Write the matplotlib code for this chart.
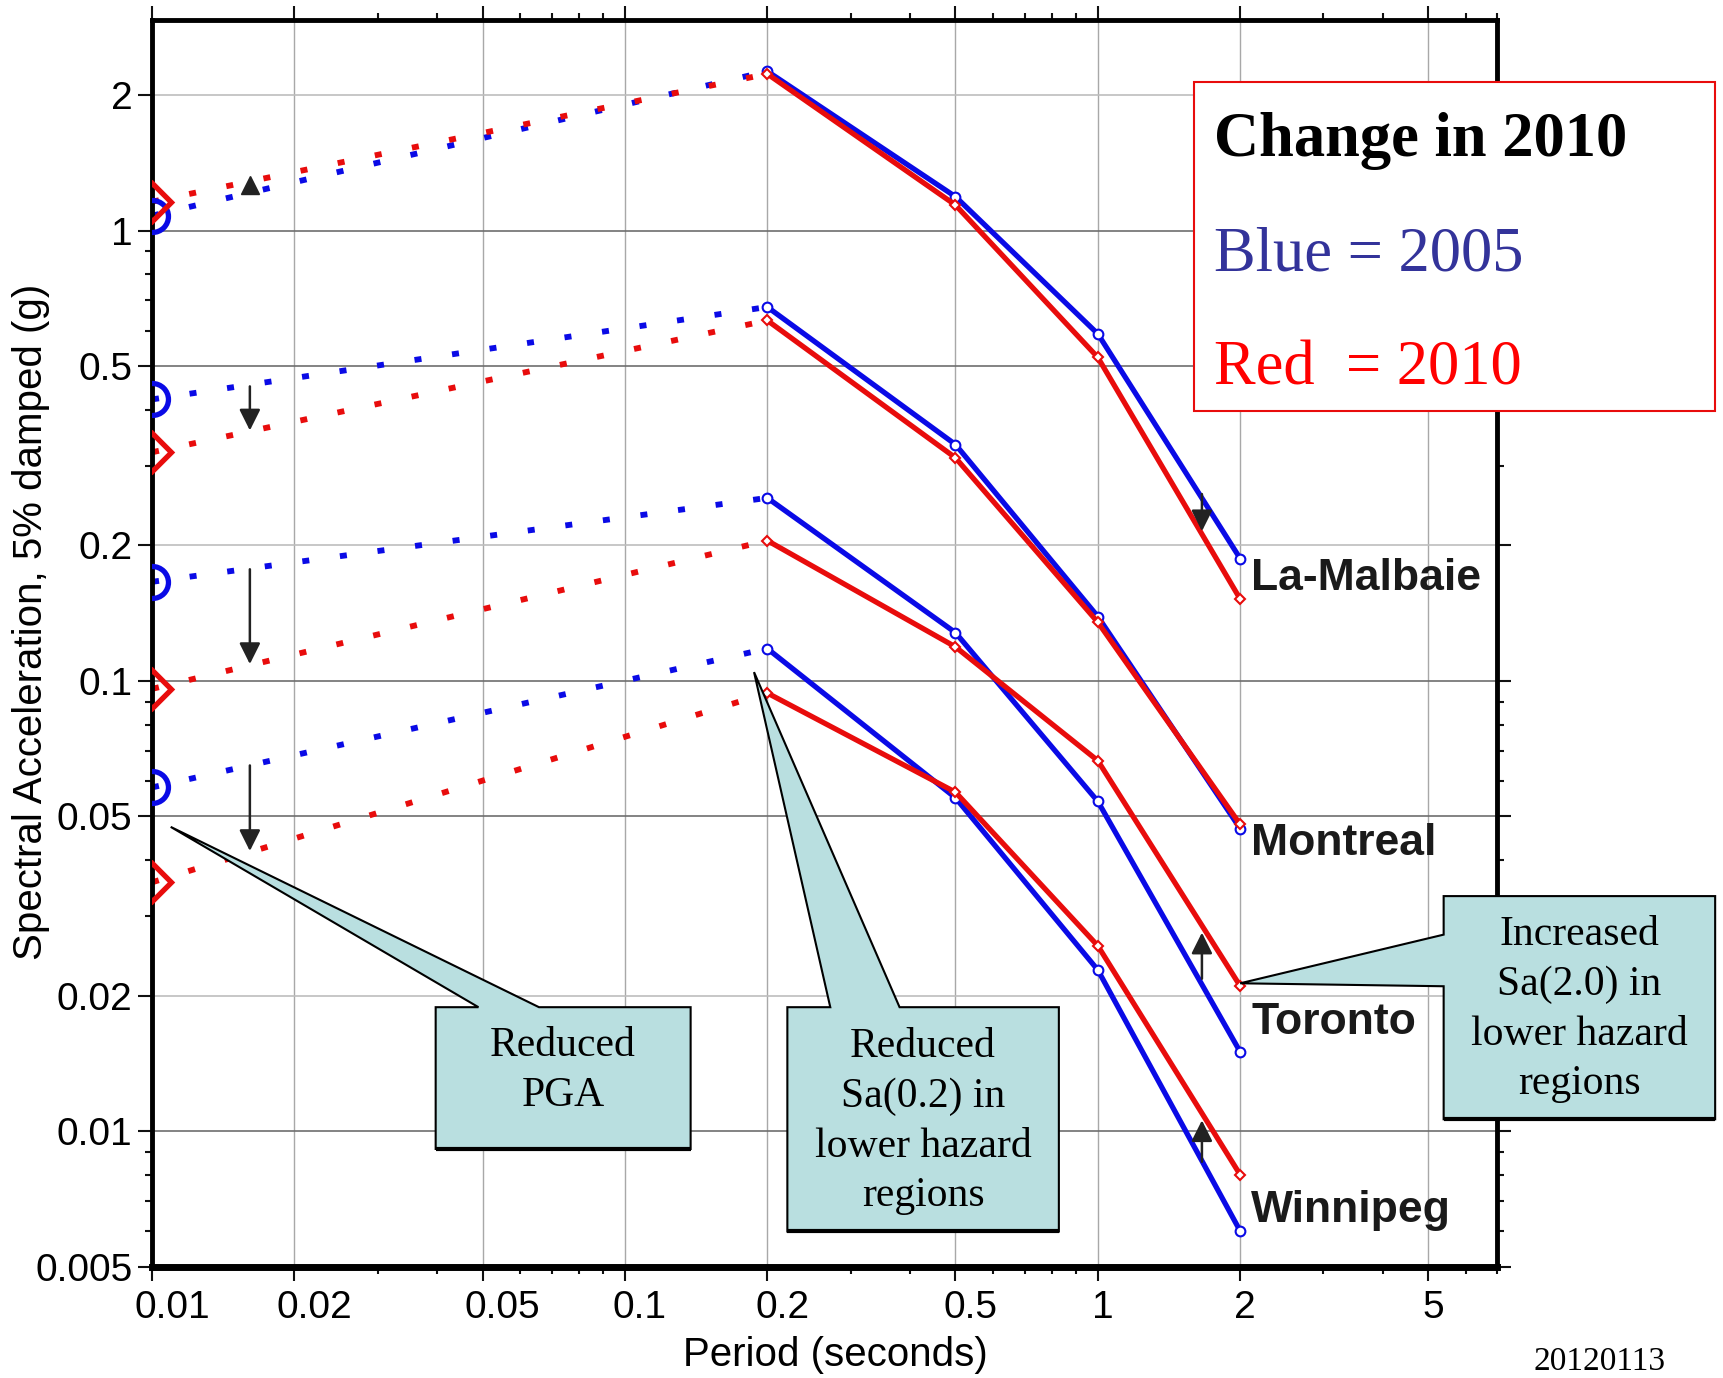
import matplotlib
matplotlib.use("Agg")
import matplotlib.pyplot as plt
import matplotlib.transforms as mtransforms
from matplotlib.patches import Polygon, Rectangle
from matplotlib.ticker import FixedLocator, LogLocator, NullFormatter

# PGA is plotted at 0.01 s, spectral ordinates at 0.2 - 2.0 s
pga_period = 0.01
sa_periods = [0.2, 0.5, 1.0, 2.0]

cities = ["La-Malbaie", "Montreal", "Toronto", "Winnipeg"]
city_label_y = [0.1686, 0.0436, 0.01743, 0.00667]

# 2005 values (g)
pga_2005 = [1.08, 0.422, 0.166, 0.058]
sa_2005 = [
    [2.26, 1.19, 0.59, 0.187],
    [0.677, 0.335, 0.139, 0.047],
    [0.255, 0.128, 0.054, 0.015],
    [0.118, 0.055, 0.0228, 0.0060],
]

# 2010 values (g)
pga_2010 = [1.16, 0.322, 0.096, 0.0357]
sa_2010 = [
    [2.23, 1.14, 0.523, 0.152],
    [0.632, 0.313, 0.135, 0.048],
    [0.205, 0.119, 0.0665, 0.021],
    [0.094, 0.0566, 0.0258, 0.0080],
]

x_ticks = [0.01, 0.02, 0.05, 0.1, 0.2, 0.5, 1, 2, 5]
x_tick_labels = ["0.01", "0.02", "0.05", "0.1", "0.2", "0.5", "1", "2", "5"]
y_ticks = [0.005, 0.01, 0.02, 0.05, 0.1, 0.2, 0.5, 1, 2]
y_tick_labels = ["0.005", "0.01", "0.02", "0.05", "0.1", "0.2", "0.5", "1", "2"]

# change arrows: (period, from, to)
pga_arrows = [(0.0161, 0.451, 0.360), (0.0161, 0.177, 0.109), (0.0161, 0.0649, 0.0419)]
pga_up_mark = (0.0161, 1.266)
sa2_arrows = [(1.66, 0.26, 0.215), (1.66, 0.0218, 0.0276), (1.66, 0.00855, 0.01057)]

BLUE = "#0a0ae6"
RED = "#e80c0c"
CALLOUT = "#b9dfe0"
SANS = "Liberation Sans"
SERIF = "Liberation Serif"

fig = plt.figure(figsize=(17.24, 13.78), dpi=100)
ax = fig.add_axes([0.0882, 0.0808, 0.7804, 0.9048])
ax.set_xscale("log")
ax.set_yscale("log")
ax.set_xlim(0.01, 7)
ax.set_ylim(0.005, 2.94)

# grid
for v in x_ticks:
    ax.axvline(v, color="#a8a8a8", lw=1.0, zorder=0.5)
for v, s in zip(y_ticks, y_tick_labels):
    dark = s.rstrip("0").endswith(("1", "5"))
    ax.axhline(v, color="#6e6e6e" if dark else "#bdbdbd", lw=1.2, zorder=0.5)

for i in range(len(cities)):
    # dotted PGA -> Sa(0.2) connectors
    ax.plot([pga_period, sa_periods[0]], [pga_2005[i], sa_2005[i][0]], color=BLUE,
            lw=4.2, dashes=(1.2, 5.3), dash_capstyle="butt", zorder=2)
    ax.plot([pga_period, sa_periods[0]], [pga_2010[i], sa_2010[i][0]], color=RED,
            lw=4.2, dashes=(1.2, 5.3), dash_capstyle="butt", zorder=2)
    # spectra
    ax.plot(sa_periods, sa_2005[i], color=BLUE, lw=3.8, marker="o", ms=7,
            mfc="white", mew=1.5, zorder=3)
    ax.plot(sa_periods, sa_2010[i], color=RED, lw=3.8, marker="D", ms=5.5,
            mfc="white", mew=1.5, zorder=3)
    # PGA markers (half hidden by the axis)
    ax.plot([pga_period], [pga_2005[i]], marker="o", ms=23, mfc="none", mec=BLUE,
            mew=3.8, zorder=4)
    ax.plot([pga_period], [pga_2010[i]], marker="D", ms=19, mfc="none", mec=RED,
            mew=3.8, zorder=4)
    ax.annotate(cities[i], xy=(2.0, city_label_y[i]), xytext=(8, 0),
                textcoords="offset points", fontsize=32, fontweight="bold",
                family=SANS, ha="left", va="center", color="#1a1a1a", zorder=6)

arrow_props = dict(arrowstyle="-|>", color="#222222", lw=1.8, mutation_scale=32,
                   shrinkA=0, shrinkB=0)
for x, y0, y1 in pga_arrows + sa2_arrows:
    ax.annotate("", xy=(x, y1), xytext=(x, y0), arrowprops=arrow_props, zorder=6)
ax.plot([pga_up_mark[0]], [pga_up_mark[1]], marker="^", ms=13, color="#222222", zorder=6)

# ticks
ax.xaxis.set_major_locator(FixedLocator(x_ticks))
ax.set_xticklabels(x_tick_labels)
ax.yaxis.set_major_locator(FixedLocator(y_ticks))
ax.set_yticklabels(y_tick_labels)
ax.xaxis.set_minor_locator(LogLocator(base=10, subs=range(2, 10), numticks=20))
ax.yaxis.set_minor_locator(LogLocator(base=10, subs=range(2, 10), numticks=20))
ax.xaxis.set_minor_formatter(NullFormatter())
ax.yaxis.set_minor_formatter(NullFormatter())
ax.tick_params(which="both", direction="out", top=True, right=True, width=1.5,
               color="#111111")
ax.tick_params(which="major", length=10)
ax.tick_params(which="minor", length=5)
ax.tick_params(axis="x", labelsize=28, pad=7)
ax.tick_params(axis="y", labelsize=28, pad=4)
for lbl in ax.get_xticklabels() + ax.get_yticklabels():
    lbl.set_family(SANS)
for lbl in ax.get_xticklabels():
    dx = 3.6 * len(lbl.get_text()) / 72.0
    lbl.set_transform(lbl.get_transform()
                      + mtransforms.ScaledTranslation(dx, 0, fig.dpi_scale_trans))

for side in ["left", "right", "top"]:
    ax.spines[side].set_linewidth(3.5)
ax.spines["bottom"].set_linewidth(5)

fig.text(0.018, 0.5486, "Spectral Acceleration, 5% damped (g)", rotation=90,
         ha="center", va="center", fontsize=29, family=SANS)
fig.text(0.4847, 0.017, "Period (seconds)", ha="center", va="center",
         fontsize=29, family=SANS)

# callouts (boxes in axes fraction, tips in data coords)
to_axes = ax.transData + ax.transAxes.inverted()


def add_box(verts, x0, x1, y0, text, text_xy):
    ax.add_patch(Polygon(verts, closed=True, facecolor=CALLOUT, edgecolor="black",
                         lw=1.5, transform=ax.transAxes, clip_on=False, zorder=7))
    ax.plot([x0, x1], [y0, y0], color="black", lw=3, transform=ax.transAxes,
            clip_on=False, zorder=7.5, solid_capstyle="butt")
    ax.text(text_xy[0], text_xy[1], text, transform=ax.transAxes, ha="center",
            va="center", fontsize=30, family=SERIF, linespacing=1.38, zorder=8,
            clip_on=False)


def top_callout(x0, x1, y0, y1, bx0, bx1, tip_data, text, text_y):
    tip = to_axes.transform(tip_data)
    verts = [(x0, y0), (x1, y0), (x1, y1), (bx1, y1), tuple(tip), (bx0, y1), (x0, y1)]
    add_box(verts, x0, x1, y0, text, ((x0 + x1) / 2, text_y))


top_callout(0.2108, 0.4003, 0.0944, 0.2081, 0.2426, 0.2876, (0.01095, 0.0474),
            "Reduced\nPGA", 0.1574)
top_callout(0.4722, 0.6740, 0.0282, 0.2081, 0.5041, 0.5556, (0.1875, 0.1046),
            "Reduced\nSa(0.2) in\nlower hazard\nregions", 0.1164)

x0, x1, y0, y1 = 0.9600, 1.1618, 0.1182, 0.2972
tip = to_axes.transform((2.0, 0.0213))
verts = [(x0, y0), (x1, y0), (x1, y1), (x0, y1), (x0, 0.2663), tuple(tip), (x0, 0.2249)]
add_box(verts, x0, x1, y0, "Increased\nSa(2.0) in\nlower hazard\nregions",
        ((x0 + x1) / 2, 0.2063))

# legend box
fig.add_artist(Rectangle((0.6926, 0.7017), 0.3022, 0.2388, transform=fig.transFigure,
                         facecolor="white", edgecolor=RED, lw=1.5, zorder=5))
fig.text(0.704, 0.8868, "Change in 2010", fontsize=45, fontweight="bold",
         family=SERIF, va="baseline", zorder=6)
fig.text(0.704, 0.8037, "Blue = 2005", fontsize=45, family=SERIF, color="#33339a",
         va="baseline", zorder=6)
fig.text(0.704, 0.7208, "Red  = 2010", fontsize=45, family=SERIF, color="red",
         va="baseline", zorder=6)

fig.text(0.966, 0.001, "20120113", ha="right", va="bottom", fontsize=24, family=SERIF)

fig.savefig("out.png", dpi=100)
